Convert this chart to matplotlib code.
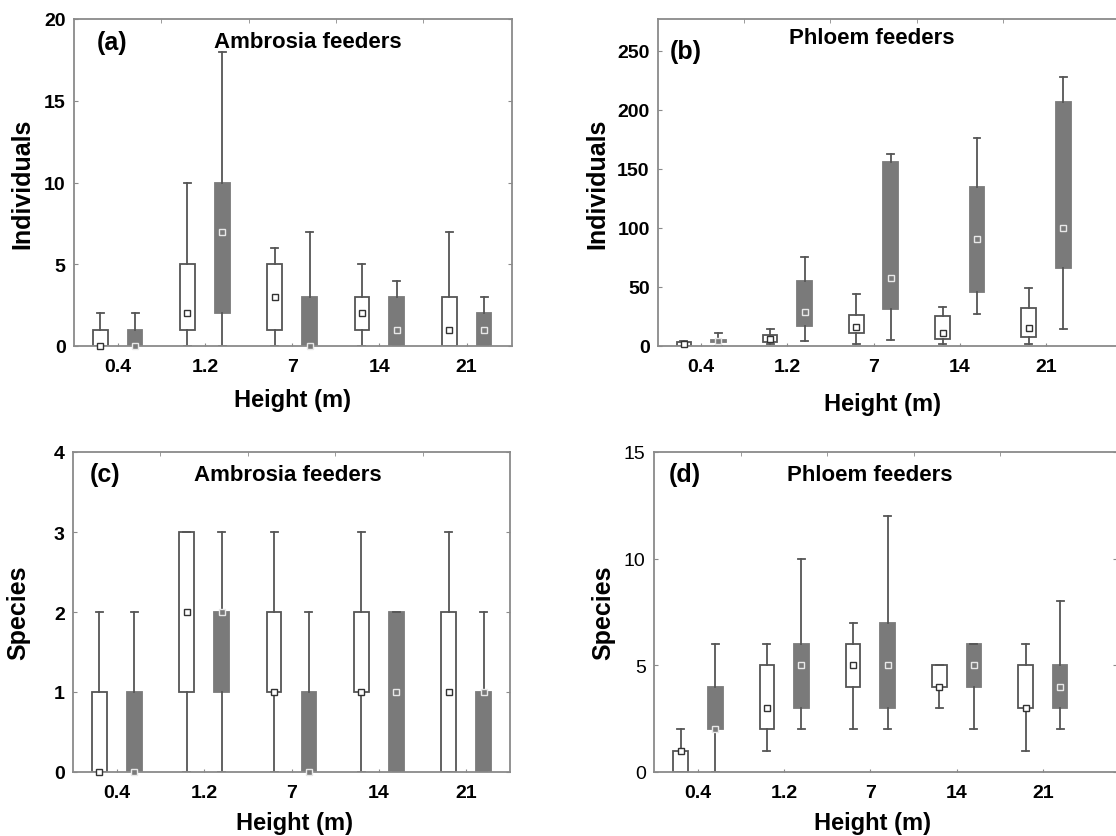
import numpy as np
import matplotlib
matplotlib.use('Agg')
import matplotlib.pyplot as plt

plt.rcParams['font.family'] = ['Liberation Sans', 'DejaVu Sans']
plt.rcParams['font.weight'] = 'bold'

heights = ['0.4', '1.2', '7', '14', '21']

# box stats per height: whisker low, q1, median, q3, whisker high
# (a) ambrosia feeders, individuals
a_white_lo = [0, 0, 0, 0, 0]
a_white_q1 = [0, 1, 1, 1, 0]
a_white_med = [0, 2, 3, 2, 1]
a_white_q3 = [1, 5, 5, 3, 3]
a_white_hi = [2, 10, 6, 5, 7]
a_gray_lo = [0, 0, 0, 0, 0]
a_gray_q1 = [0, 2, 0, 0, 0]
a_gray_med = [0, 7, 0, 1, 1]
a_gray_q3 = [1, 10, 3, 3, 2]
a_gray_hi = [2, 18, 7, 4, 3]

# (b) phloem feeders, individuals
b_white_lo = [0, 2, 2, 2, 2]
b_white_q1 = [0, 3, 11, 6, 8]
b_white_med = [2, 6, 16, 11, 15]
b_white_q3 = [3, 9, 26, 25, 32]
b_white_hi = [4, 14, 44, 33, 49]
b_gray_lo = [0, 4, 5, 27, 14]
b_gray_q1 = [3, 17, 31, 46, 66]
b_gray_med = [4, 29, 58, 91, 100]
b_gray_q3 = [5, 55, 156, 135, 207]
b_gray_hi = [11, 75, 163, 176, 228]

# (c) ambrosia feeders, species
c_white_lo = [0, 0, 0, 0, 0]
c_white_q1 = [0, 1, 1, 1, 0]
c_white_med = [0, 2, 1, 1, 1]
c_white_q3 = [1, 3, 2, 2, 2]
c_white_hi = [2, 3, 3, 3, 3]
c_gray_lo = [0, 0, 0, 0, 0]
c_gray_q1 = [0, 1, 0, 0, 0]
c_gray_med = [0, 2, 0, 1, 1]
c_gray_q3 = [1, 2, 1, 2, 1]
c_gray_hi = [2, 3, 2, 2, 2]

# (d) phloem feeders, species
d_white_lo = [0, 1, 2, 3, 1]
d_white_q1 = [0, 2, 4, 4, 3]
d_white_med = [1, 3, 5, 4, 3]
d_white_q3 = [1, 5, 6, 5, 5]
d_white_hi = [2, 6, 7, 5, 6]
d_gray_lo = [0, 2, 2, 2, 2]
d_gray_q1 = [2, 3, 3, 4, 3]
d_gray_med = [2, 5, 5, 5, 4]
d_gray_q3 = [4, 6, 7, 6, 5]
d_gray_hi = [6, 10, 12, 6, 8]

line_c = '#555555'
fill_c = '#7a7a7a'
spine_c = '#8a8a8a'


def make_stats(lo, q1, med, q3, hi):
    out = []
    for i in range(len(lo)):
        out.append({'whislo': lo[i], 'q1': q1[i], 'med': med[i],
                    'q3': q3[i], 'whishi': hi[i], 'fliers': []})
    return out


def draw_panel(ax, white, gray, ylim, yticks, letter, title, ylabel,
               title_pos, letter_pos, ylab_x, xlab_xy, xlim, light_yticks=False):
    pos = np.arange(len(heights))
    w = 0.17
    ax.bxp(make_stats(*white), positions=pos - 0.2, widths=w, patch_artist=True,
           boxprops=dict(facecolor='white', edgecolor=line_c, linewidth=1.3),
           whiskerprops=dict(color=line_c, linewidth=1.3),
           capprops=dict(color=line_c, linewidth=1.3),
           medianprops=dict(linestyle='none'), capwidths=0.08, manage_ticks=False)
    ax.bxp(make_stats(*gray), positions=pos + 0.2, widths=w, patch_artist=True,
           boxprops=dict(facecolor=fill_c, edgecolor=fill_c, linewidth=1.3),
           whiskerprops=dict(color=line_c, linewidth=1.3),
           capprops=dict(color=line_c, linewidth=1.3),
           medianprops=dict(linestyle='none'), capwidths=0.08, manage_ticks=False)
    ax.plot(pos - 0.2, white[2], 's', ms=5, mfc='white', mec='#333333', mew=1.0,
            linestyle='none', zorder=5, clip_on=False)
    ax.plot(pos + 0.2, gray[2], 's', ms=5, mfc=fill_c, mec='#e8e8e8', mew=1.0,
            linestyle='none', zorder=5, clip_on=False)

    ax.set_xlim(*xlim)
    ax.set_ylim(*ylim)
    ax.set_xticks(pos)
    ax.set_xticklabels(heights, fontsize=14, fontweight='bold')
    ax.set_xticks(pos[:-1] + 0.5, minor=True)
    ax.set_yticks(yticks)
    ax.set_yticklabels([str(t) for t in yticks], fontsize=14,
                       fontweight='normal' if light_yticks else 'bold')
    ax.tick_params(axis='x', which='major', direction='in', length=2, pad=9,
                   color=spine_c, top=False)
    ax.tick_params(axis='x', which='minor', direction='in', length=3,
                   color=spine_c, top=True, bottom=False)
    ax.tick_params(axis='y', direction='in', length=3, right=True, pad=6,
                   color=spine_c)
    for s in ax.spines.values():
        s.set_color(spine_c)
        s.set_linewidth(1.3)

    ax.text(letter_pos[0], letter_pos[1], letter, transform=ax.transAxes,
            fontsize=18, fontweight='bold', ha='left', va='center')
    ax.text(title_pos[0], title_pos[1], title, transform=ax.transAxes,
            fontsize=16, fontweight='bold', ha='center', va='center')
    ax.set_ylabel(ylabel, fontsize=18, fontweight='bold')
    ax.yaxis.set_label_coords(ylab_x, 0.5)
    ax.set_xlabel('Height (m)', fontsize=17, fontweight='bold')
    ax.xaxis.set_label_coords(*xlab_xy)


fig = plt.figure(figsize=(11.16, 8.37), dpi=100)

ax_a = fig.add_axes([74 / 1116, 1 - 347 / 837, 438 / 1116, 327 / 837])
ax_b = fig.add_axes([658 / 1116, 1 - 347 / 837, 463 / 1116, 327 / 837])
ax_c = fig.add_axes([73 / 1116, 1 - 773 / 837, 437 / 1116, 320 / 837])
ax_d = fig.add_axes([654 / 1116, 1 - 773 / 837, 463 / 1116, 320 / 837])

draw_panel(ax_a,
           (a_white_lo, a_white_q1, a_white_med, a_white_q3, a_white_hi),
           (a_gray_lo, a_gray_q1, a_gray_med, a_gray_q3, a_gray_hi),
           (0, 20), [0, 5, 10, 15, 20], '(a)', 'Ambrosia feeders', 'Individuals',
           (0.534, 0.93), (0.053, 0.93), -0.09, (0.498, -0.128), (-0.5, 4.52))
draw_panel(ax_b,
           (b_white_lo, b_white_q1, b_white_med, b_white_q3, b_white_hi),
           (b_gray_lo, b_gray_q1, b_gray_med, b_gray_q3, b_gray_hi),
           (0, 277), [0, 50, 100, 150, 200, 250], '(b)', 'Phloem feeders', 'Individuals',
           (0.462, 0.942), (0.026, 0.902), -0.104, (0.484, -0.14), (-0.5, 4.87))
draw_panel(ax_c,
           (c_white_lo, c_white_q1, c_white_med, c_white_q3, c_white_hi),
           (c_gray_lo, c_gray_q1, c_gray_med, c_gray_q3, c_gray_hi),
           (0, 4), [0, 1, 2, 3, 4], '(c)', 'Ambrosia feeders', 'Species',
           (0.492, 0.931), (0.039, 0.931), -0.098, (0.506, -0.122), (-0.5, 4.5))
draw_panel(ax_d,
           (d_white_lo, d_white_q1, d_white_med, d_white_q3, d_white_hi),
           (d_gray_lo, d_gray_q1, d_gray_med, d_gray_q3, d_gray_hi),
           (0, 15), [0, 5, 10, 15], '(d)', 'Phloem feeders', 'Species',
           (0.467, 0.931), (0.032, 0.931), -0.084, (0.471, -0.122), (-0.51, 4.86),
           light_yticks=True)

fig.savefig('out.png', dpi=100)
